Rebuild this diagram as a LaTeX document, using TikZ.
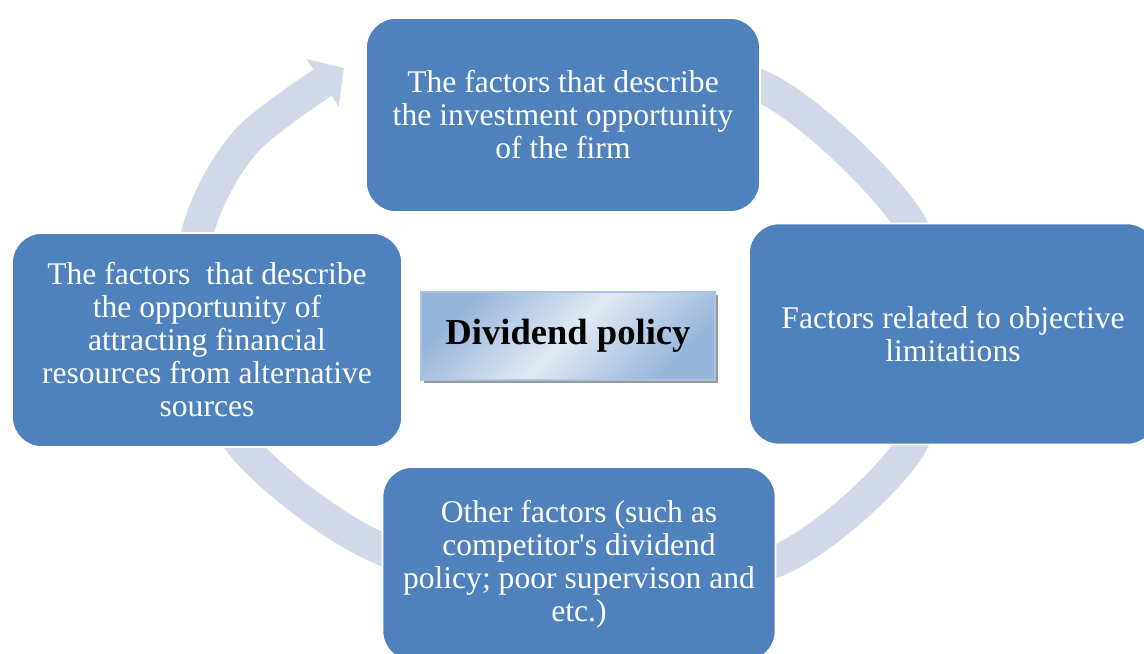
\documentclass[tikz,border=0pt]{standalone}
\usepackage{fontspec}
\setmainfont{Liberation Serif}
\usepackage{tikz}
\usetikzlibrary{arrows.meta, shadows}
\usepackage{xcolor}

\definecolor{boxblue}{RGB}{79,129,189}
\definecolor{ringblue}{RGB}{209,217,233}
\definecolor{paleblue}{RGB}{225,233,244}
\definecolor{midblue}{RGB}{150,180,218}

\begin{document}
\begin{tikzpicture}[
    x=0.5pt, y=-0.5pt,
    factor/.style={
        rounded corners=15pt,
        fill=boxblue,
        draw=white,
        line width=0.8pt,
        text=white,
        align=center,
        font=\fontsize{15.8}{16.5}\selectfont
        }
    ]
    \clip (0, 0) rectangle (1144, 653);

    % Ring with the arrow head
    \draw[
        ringblue,
        line width=16pt,
        -{Triangle[width=28pt, length=13pt]}
        ]
        plot[smooth] coordinates {
            (560, 44) (765, 88) (907, 218) (930, 335) (908, 450) (781, 559)
            (580, 602) (377, 547) (248, 452) (190, 340) (196, 240) (218, 182)
            (250, 137) (300, 98)}
        -- (344, 68);

    % Factor boxes
    \node[factor, minimum width=197pt, minimum height=97pt] (invest) at (563, 115)
        {The factors that describe\\the investment opportunity\\of the firm};
    \node[factor, minimum width=204pt, minimum height=110.5pt] (limits) at (953, 334)
        {Factors related to objective\\limitations};
    \node[factor, minimum width=196.5pt, minimum height=97pt] (other) at (579, 564)
        {Other factors (such as\\competitor\textquotesingle s dividend\\policy; poor supervison and\\etc.)};
    \node[factor, minimum width=195pt, minimum height=107pt] (finance) at (207, 340)
        {The factors~ that describe\\the opportunity of\\attracting financial\\resources from alternative\\sources};

    % Centre box
    \node[
        draw=midblue!80,
        line width=1pt,
        left color=midblue,
        right color=midblue,
        middle color=paleblue,
        shading angle=45,
        drop shadow={shadow xshift=1.6pt, shadow yshift=-1.6pt, opacity=1, fill=black!40},
        minimum width=147pt,
        minimum height=44pt,
        font=\fontsize{18.3}{20}\selectfont\bfseries
        ]
        (policy) at (568, 336) {Dividend policy};
\end{tikzpicture}
\end{document}
